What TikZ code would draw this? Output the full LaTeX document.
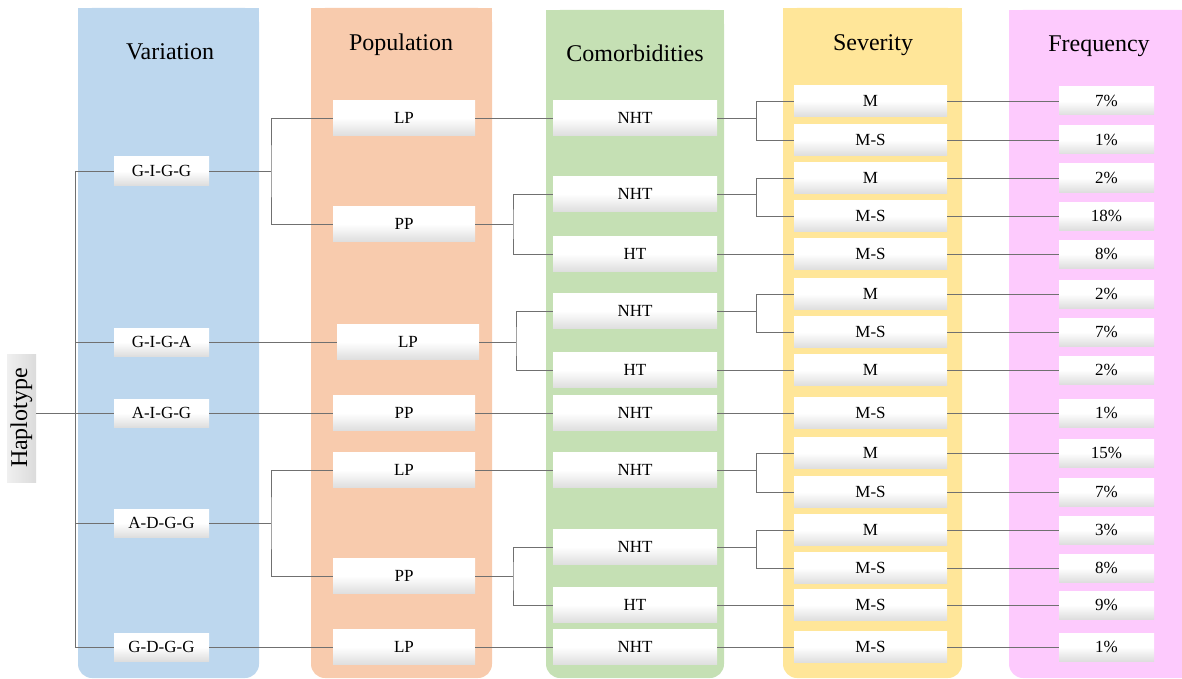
\documentclass[tikz,border=0pt]{standalone}
\usepackage{fontspec}
\setmainfont{Liberation Serif}
\definecolor{cvar}{HTML}{BDD7EE}
\definecolor{cpop}{HTML}{F8CBAD}
\definecolor{ccom}{HTML}{C5E0B4}
\definecolor{csev}{HTML}{FFE699}
\definecolor{cfre}{HTML}{FDCAFD}
\definecolor{cline}{HTML}{707070}
\begin{document}
\begin{tikzpicture}[x=1pt,y=-1pt,
  box/.style={rectangle,inner sep=0pt,top color=white,bottom color=black!13,middle color=white,font=\fontsize{17}{18}\selectfont},
  vbox/.style={box,minimum width=95pt,minimum height=28pt},
  pbox/.style={box,minimum width=142pt,minimum height=35pt},
  cbox/.style={box,minimum width=164pt,minimum height=35pt},
  sbox/.style={box,minimum width=153pt,minimum height=31pt},
  fbox/.style={box,minimum width=95pt,minimum height=28pt},
  title/.style={font=\fontsize{24}{26}\selectfont},
  conn/.style={draw=cline,line width=0.8pt}]
\useasboundingbox (0,0) rectangle (1182,679);
% column backgrounds
\foreach \xa/\xb/\yt/\cc in {78/259/8/cvar,311/492/8/cpop,546/724/10/ccom,783/962/8/csev,1009/1195/10/cfre}{
  \fill[\cc,rounded corners=14pt] (\xa,\yt) rectangle (\xb,678);
  \fill[\cc] (\xa,\yt) rectangle (\xb,300);
}
% titles
\node[title] (tvar) at (170,52) {Variation};
\node[title] (tpop) at (401,45) {Population};
\node[title] (tcom) at (635,53) {Comorbidities};
\node[title] (tsev) at (873,45) {Severity};
\node[title] (tfre) at (1099,46) {Frequency};
% haplotype
\node[rotate=90,inner sep=0pt,minimum width=128pt,minimum height=29pt,left color=black!6,right color=black!14,font=\fontsize{24}{26}\selectfont] (hap) at (21.5,418) {Haplotype};
% variation
\node[vbox] (v1) at (161.5,171) {G-I-G-G};
\node[vbox] (v2) at (161.5,342) {G-I-G-A};
\node[vbox] (v3) at (161.5,413) {A-I-G-G};
\node[vbox] (v4) at (161.5,523) {A-D-G-G};
\node[vbox] (v5) at (161.5,647) {G-D-G-G};
% population
\node[pbox] (p1) at (404,118) {LP};
\node[pbox] (p2) at (404,224) {PP};
\node[pbox] (p3) at (408,342) {LP};
\node[pbox] (p4) at (404,413) {PP};
\node[pbox] (p5) at (404,470) {LP};
\node[pbox] (p6) at (404,576) {PP};
\node[pbox] (p7) at (404,647) {LP};
% comorbidities
\node[cbox] (c1) at (635,118) {NHT};
\node[cbox] (c2) at (635,194) {NHT};
\node[cbox] (c3) at (635,254) {HT};
\node[cbox] (c4) at (635,311) {NHT};
\node[cbox] (c5) at (635,370) {HT};
\node[cbox] (c6) at (635,413) {NHT};
\node[cbox] (c7) at (635,470) {NHT};
\node[cbox] (c8) at (635,547) {NHT};
\node[cbox] (c9) at (635,605) {HT};
\node[cbox] (c10) at (635,647) {NHT};
% severity and frequency
\foreach \i/\y/\s/\f in {1/101/M/7,2/140/M-S/1,3/178/M/2,4/216/M-S/18,5/254/M-S/8,6/294/M/2,7/332/M-S/7,8/370/M/2,9/413/M-S/1,10/453/M/15,11/492/M-S/7,12/530/M/3,13/568/M-S/8,14/605/M-S/9,15/647/M-S/1}{
  \node[sbox] (s\i) at (870.5,\y) {\s};
  \node[fbox] (f\i) at (1106.5,\y) {\f\%};
  \draw[conn] (s\i.east) -- (f\i.west);
}
% haplotype -> variation
\coordinate (trunk) at (75,413);
\draw[conn] (hap.south |- trunk) -- (trunk);
\draw[conn] (trunk |- v1.west) -- (trunk |- v5.west);
\foreach \v in {v1,v2,v3,v4,v5}{\draw[conn] (trunk |- \v.west) -- (\v.west);}
% variation -> population
\coordinate (b1) at (271,171);
\coordinate (b2) at (271,523);
\draw[conn] (v1.east) -- (b1);
\draw[conn] (p1.west) -| (b1) |- (p2.west);
\draw[conn] (v2.east) -- (p3.west);
\draw[conn] (v3.east) -- (p4.west);
\draw[conn] (v4.east) -- (b2);
\draw[conn] (p5.west) -| (b2) |- (p6.west);
\draw[conn] (v5.east) -- (p7.west);
% population -> comorbidities
\coordinate (d1) at (513,224);
\coordinate (d2) at (516,342);
\coordinate (d3) at (513,576);
\draw[conn] (p1.east) -- (c1.west);
\draw[conn] (p2.east) -- (d1);
\draw[conn] (c2.west) -| (d1) |- (c3.west);
\draw[conn] (p3.east) -- (d2);
\draw[conn] (c4.west) -| (d2) |- (c5.west);
\draw[conn] (p4.east) -- (c6.west);
\draw[conn] (p5.east) -- (c7.west);
\draw[conn] (p6.east) -- (d3);
\draw[conn] (c8.west) -| (d3) |- (c9.west);
\draw[conn] (p7.east) -- (c10.west);
% comorbidities -> severity
\coordinate (e1) at (756,118);
\coordinate (e2) at (756,194);
\coordinate (e3) at (756,311);
\coordinate (e4) at (756,470);
\coordinate (e5) at (756,547);
\draw[conn] (c1.east) -- (e1);
\draw[conn] (s1.west) -| (e1) |- (s2.west);
\draw[conn] (c2.east) -- (e2);
\draw[conn] (s3.west) -| (e2) |- (s4.west);
\draw[conn] (c3.east) -- (s5.west);
\draw[conn] (c4.east) -- (e3);
\draw[conn] (s6.west) -| (e3) |- (s7.west);
\draw[conn] (c5.east) -- (s8.west);
\draw[conn] (c6.east) -- (s9.west);
\draw[conn] (c7.east) -- (e4);
\draw[conn] (s10.west) -| (e4) |- (s11.west);
\draw[conn] (c8.east) -- (e5);
\draw[conn] (s12.west) -| (e5) |- (s13.west);
\draw[conn] (c9.east) -- (s14.west);
\draw[conn] (c10.east) -- (s15.west);
\end{tikzpicture}
\end{document}
